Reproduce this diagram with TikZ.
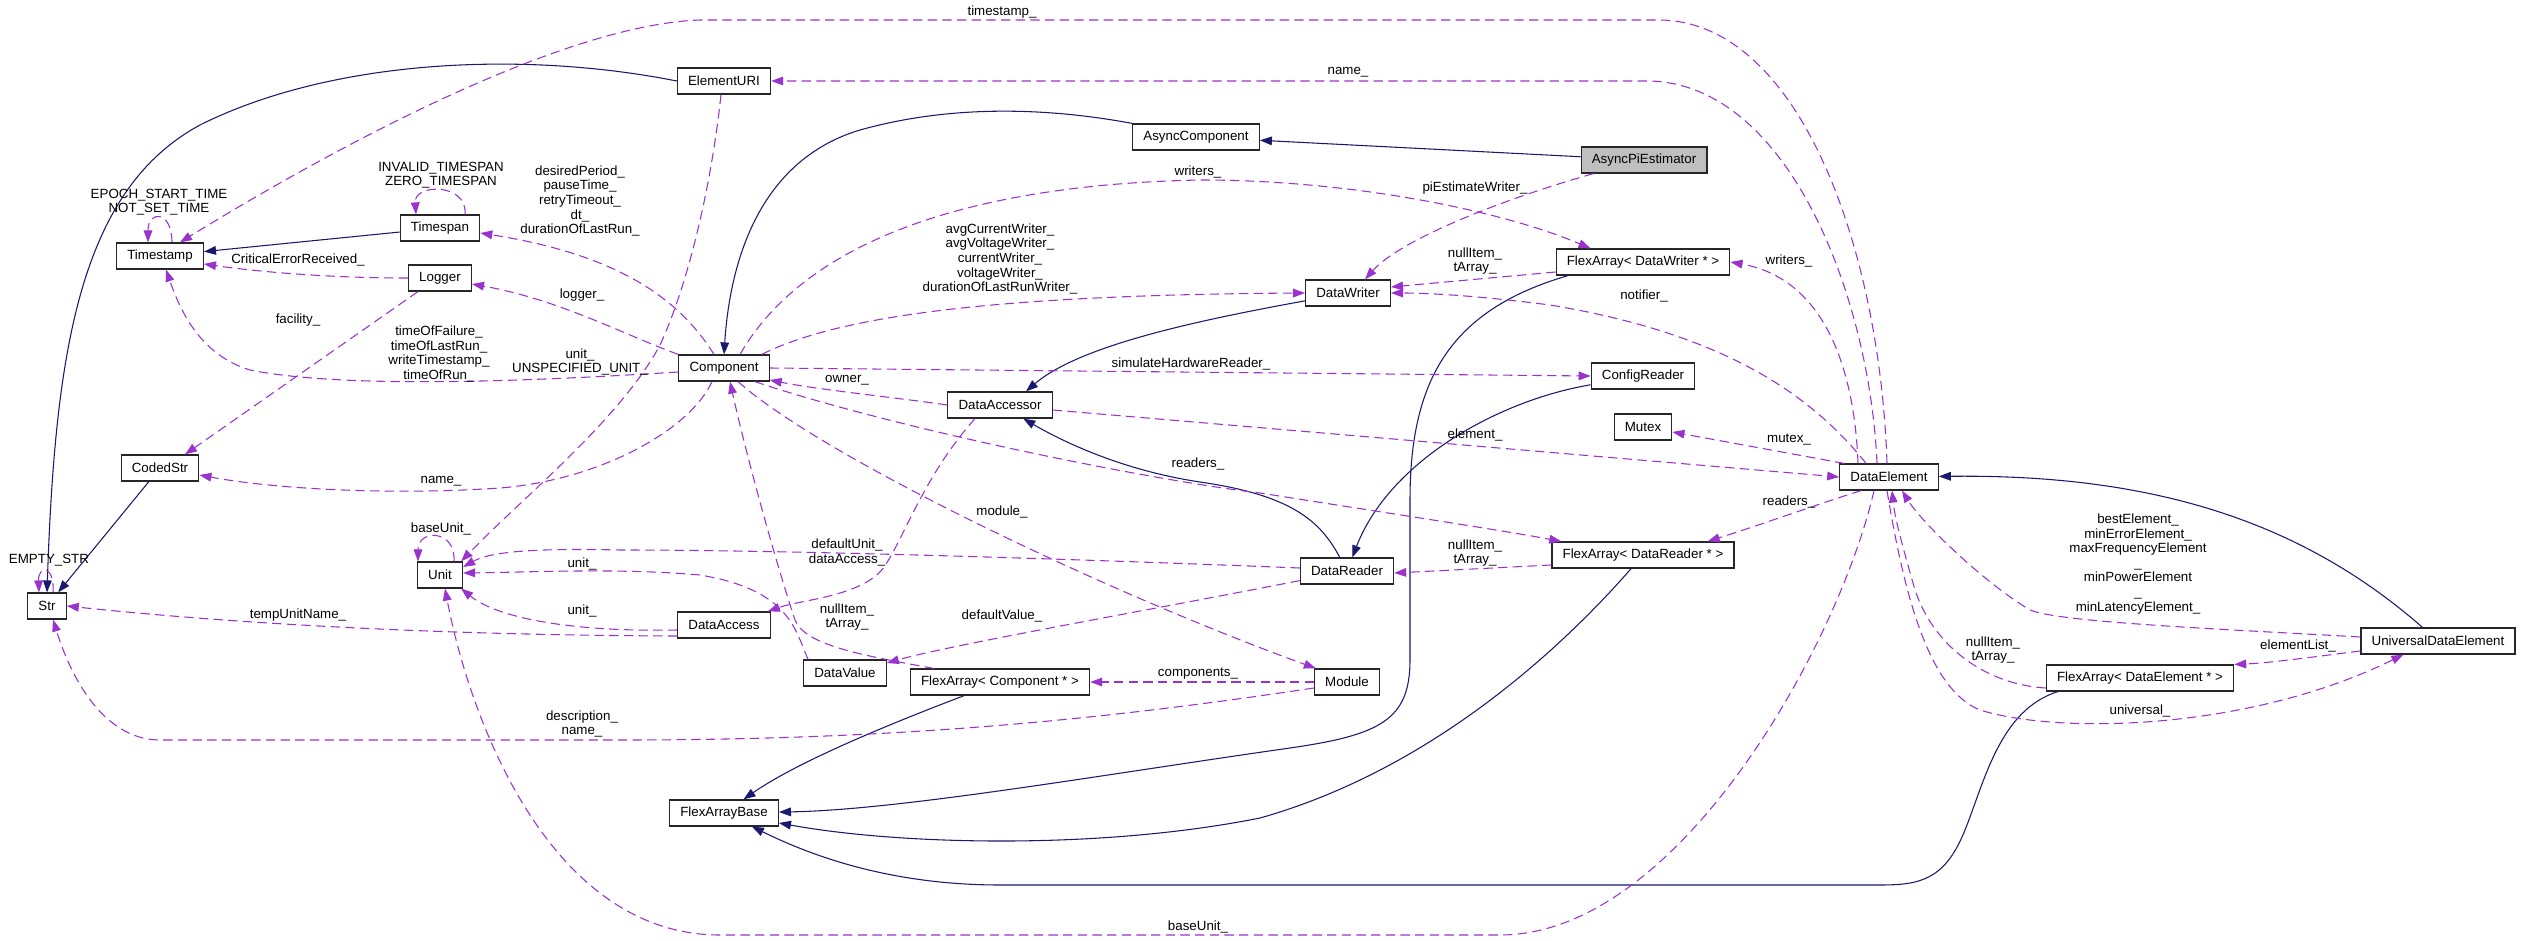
\documentclass[tikz,border=0pt]{standalone}
\usepackage{fontspec}
\setmainfont{Liberation Sans}
\usetikzlibrary{arrows.meta,calc}
\definecolor{inhblue}{HTML}{191970}
\definecolor{usepurple}{HTML}{9A32CD}

\begin{document}
\begin{tikzpicture}[x=0.75pt,y=-0.75pt,
      cls/.style={draw=black!85,line width=0.9pt,fill=white,inner xsep=8pt,inner ysep=0pt,
        minimum height=19.5pt,font=\fontsize{10}{12}\selectfont},
      root/.style={cls,fill=black!25},
      lbl/.style={align=center,inner sep=0pt,font=\fontsize{10}{10.9}\selectfont},
      inh/.style={draw=inhblue,line width=0.8pt,-{Triangle[length=9pt,width=6.5pt]}},
      uses/.style={draw=usepurple,line width=0.8pt,dash pattern=on 7pt off 4pt,
        -{Triangle[length=9pt,width=6.5pt]}}]
    \useasboundingbox (0,0) rectangle (2521,941);
    % classes, placed where the graph layout put them
    \node[root] (asyncpi) at (1644,160) {AsyncPiEstimator};
    \foreach \nm/\x/\y/\txt in {elementuri/724/81/ElementURI, asynccomp/1196/137/AsyncComponent,
        timestamp/160/256/Timestamp, timespan/440/228/Timespan, logger/440/278/Logger,
        flexdw/1643/262/{FlexArray< DataWriter * >}, datawriter/1348/293/DataWriter,
        component/724/368/Component, configreader/1643/376/ConfigReader,
        dataaccessor/1000/405/DataAccessor, mutex/1643/427/Mutex, codedstr/160/468/CodedStr,
        dataelement/1889/477/DataElement, str/47/606/Str, unit/440/575/Unit,
        datareader/1347/571/DataReader, flexdr/1643/555/{FlexArray< DataReader * >},
        dataaccess/724/625/DataAccess, datavalue/845/673/DataValue,
        flexcomp/1000/682/{FlexArray< Component * >}, module/1347/682/Module,
        ude/2438/641/UniversalDataElement, flexde/2140/678/{FlexArray< DataElement * >},
        flexbase/724/813/FlexArrayBase}
      \node[cls] (\nm) at (\x,\y) {\txt};

    % inheritance
    \draw[inh] (asyncpi) -- (asynccomp);
    \draw[inh] (asynccomp.north west) .. controls (1060,110) and (960,102) .. (860,130)
      .. controls (760,160) and (730,260) .. (component.north);
    \draw[inh] (elementuri.west) .. controls (520,50) and (330,60) .. (200,125)
      .. controls (80,190) and (55,350) .. (str.north);
    \draw[inh] (timespan) -- (timestamp);
    \draw[inh] (codedstr) -- (str);
    \draw[inh] (datawriter) .. controls (1200,320) and (1080,345) .. ($(dataaccessor.north)+(26,0)$);
    \draw[inh] (datareader) .. controls (1320,520) and (1290,495) .. (1200,482)
      .. controls (1120,470) and (1060,440) .. (dataaccessor);
    \draw[inh] (configreader) .. controls (1500,400) and (1390,460) .. (datareader);
    \draw[inh] ($(flexdw.south)+(-75,0)$) .. controls (1450,310) and (1410,380) .. (1410,500)
      -- (1410,660) .. controls (1410,720) and (1380,735) .. (1290,748)
      .. controls (1100,775) and (900,810) .. (flexbase);
    \draw[inh] (flexdr) .. controls (1560,650) and (1430,770) .. (1260,818)
      .. controls (1100,850) and (900,845) .. (flexbase);
    \draw[inh] ($(flexde.south west)+(12,0)$) .. controls (2000,710) and (1985,780) .. (1965,830)
      .. controls (1945,880) and (1920,885) .. (1880,885) -- (1000,885)
      .. controls (880,885) and (800,850) .. (flexbase);
    \draw[inh] (flexcomp) .. controls (900,720) and (800,760) .. (flexbase);
    \draw[inh] (ude) .. controls (2300,520) and (2150,474) .. (dataelement);

    % members, pointing at the type that holds them
    \draw[uses] ($(dataelement.north)+(-2,0)$) .. controls (1880,250) and (1800,22) .. (1660,20)
      -- (700,20) .. controls (560,25) and (330,150) .. ($(timestamp.north)+(20,0)$);
    \draw[uses] ($(dataelement.north)+(-12,0)$) .. controls (1870,300) and (1790,85) .. (1650,81)
      -- (elementuri.east);
    \draw[uses] ($(timestamp.north)+(12,0)$) .. controls (172,210) and (148,210) .. ($(timestamp.north)+(-12,0)$);
    \draw[uses] ($(timespan.north)+(25,0)$) .. controls (468,183) and (414,183) .. ($(timespan.north)+(-24,0)$);
    \draw[uses] ($(unit.north)+(14,0)$) .. controls (456,529) and (418,529) .. ($(unit.north)+(-22,0)$);
    \draw[uses] ($(str.north)+(6,0)$) .. controls (55,565) and (38,565) .. ($(str.north)+(-8,0)$);
    \draw[uses] ($(component.north)+(-10,0)$) .. controls (680,300) and (620,255) .. ($(timespan.east)+(0,5)$);
    \draw[uses] (component.north west) .. controls (620,333) and (560,300) .. ($(logger.east)+(0,6)$);
    \draw[uses] (logger.west) .. controls (330,278) and (260,272) .. ($(timestamp.east)+(0,8)$);
    \draw[uses] ($(logger.south west)+(10,0)$) -- ($(codedstr.north)+(25,0)$);
    \draw[uses] ($(component.west)+(0,4)$) .. controls (550,380) and (350,390) .. (250,370)
      .. controls (200,355) and (180,310) .. ($(timestamp.south)+(6,0)$);
    \draw[uses] ($(elementuri.south)+(-3,0)$) .. controls (712,180) and (690,280) .. (660,345)
      .. controls (620,420) and (520,500) .. ($(unit.north east)+(-2,0)$);
    \draw[uses] ($(component.south)+(-12,0)$) .. controls (690,430) and (600,480) .. (500,488)
      .. controls (400,495) and (280,490) .. ($(codedstr.east)+(0,7)$);
    \draw[uses] (component.east) -- (configreader.west);
    \draw[uses] (dataaccessor.west) .. controls (900,398) and (820,390) .. ($(component.east)+(0,12)$);
    \draw[uses] ($(component.south east)+(-15,0)$) .. controls (900,430) and (1150,480) .. (1260,493)
      .. controls (1400,515) and (1500,530) .. ($(flexdr.north west)+(10,0)$);
    \draw[uses] ($(component.south)+(14,0)$) .. controls (820,455) and (1100,590) .. ($(module.north west)+(2,0)$);
    \draw[uses] ($(dataaccessor.east)+(0,5)$) -- (dataelement.west);
    \draw[uses] ($(component.north)+(16,0)$) .. controls (800,250) and (950,185) .. (1200,180)
      .. controls (1350,180) and (1500,210) .. ($(flexdw.north west)+(35,0)$);
    \draw[uses] ($(component.north east)+(-8,0)$) .. controls (840,315) and (1000,295) .. (datawriter.west);
    \draw[uses] ($(asyncpi.south west)+(13,0)$) .. controls (1500,200) and (1400,240) .. ($(datawriter.north)+(17,0)$);
    \draw[uses] ($(flexdw.west)+(0,10)$) -- ($(datawriter.east)+(0,-6)$);
    \draw[uses] ($(dataelement.north)+(-23,0)$) .. controls (1800,380) and (1700,330) .. (1550,305)
      .. controls (1480,296) and (1430,293) .. (datawriter.east);
    \draw[uses] ($(dataelement.north)+(-31,0)$) .. controls (1855,380) and (1830,280) .. (flexdw.east);
    \draw[uses] ($(dataelement.north west)+(5,0)$) -- ($(mutex.east)+(0,5)$);
    \draw[uses] ($(dataelement.south west)+(22,0)$) .. controls (1830,500) and (1760,525) .. ($(flexdr.north east)+(-27,0)$);
    \draw[uses] ($(flexdr.west)+(0,10)$) -- ($(datareader.east)+(0,2)$);
    \draw[uses] ($(datareader.west)+(0,-3)$) .. controls (1100,560) and (800,550) .. (620,550)
      .. controls (530,548) and (490,552) .. ($(unit.east)+(0,-8)$);
    \draw[uses] ($(dataaccessor.south)+(-25,0)$) .. controls (920,480) and (900,550) .. (880,572)
      .. controls (855,597) and (800,600) .. ($(dataaccess.north east)+(-3,0)$);
    \draw[uses] ($(datavalue.north west)+(5,0)$) .. controls (795,630) and (790,590) .. (700,575)
      .. controls (620,568) and (540,572) .. ($(unit.east)+(0,-2)$);
    \draw[uses] ($(dataaccess.west)+(0,5)$) .. controls (580,632) and (500,620) .. ($(unit.south east)+(-2,0)$);
    \draw[uses] ($(dataaccess.west)+(0,11)$) .. controls (400,635) and (200,620) .. (str.east);
    \draw[uses] ($(dataelement.south)+(-15,0)$) .. controls (1840,640) and (1680,935) .. (1500,935)
      -- (720,935) .. controls (550,935) and (470,720) .. ($(unit.south)+(5,0)$);
    \draw[uses] ($(module.west)+(0,6)$) .. controls (1100,720) and (900,740) .. (620,740)
      -- (160,740) .. controls (110,740) and (75,690) .. ($(str.south)+(6,0)$);
    \draw[uses] (module.west) -- (flexcomp.east);
    \draw[uses] ($(datareader.south west)+(0,-4)$) .. controls (1150,610) and (950,645) .. ($(datavalue.east)+(0,-10)$);
    \draw[uses] ($(flexcomp.north west)+(24,0)$) .. controls (860,655) and (805,645) .. (795,620)
      .. controls (775,560) and (745,450) .. ($(component.south)+(6,0)$);
    \draw[uses] ($(ude.west)+(0,10)$) .. controls (2320,656) and (2270,663) .. (flexde.north east);
    \draw[uses] ($(ude.west)+(0,-4)$) .. controls (2200,628) and (2060,622) .. (2030,610)
      .. controls (1980,580) and (1920,520) .. ($(dataelement.south)+(13,0)$);
    \draw[uses] ($(dataelement.south)+(-2,0)$) .. controls (1905,600) and (1930,690) .. (1980,710)
      .. controls (2060,735) and (2250,730) .. ($(ude.south west)+(43,0)$);
    \draw[uses] ($(flexde.west)+(0,10)$) .. controls (1990,685) and (1935,650) .. (1915,590)
      .. controls (1905,555) and (1895,520) .. ($(dataelement.south)+(3,0)$);

    % member names
    \foreach \x/\y/\txt [count=\i] in {1002/12/timestamp\_, 1348/72/name\_,
        159/202/{EPOCH\_START\_TIME\\NOT\_SET\_TIME}, 441/175/{INVALID\_TIMESPAN\\ZERO\_TIMESPAN},
        580/201/{desiredPeriod\_\\pauseTime\_\\retryTimeout\_\\dt\_\\durationOfLastRun\_},
        298/260/CriticalErrorReceived\_, 582/295/logger\_, 298/320/facility\_,
        439/354/{timeOfFailure\_\\timeOfLastRun\_\\writeTimestamp\_\\timeOfRun\_},
        580/362/{unit\_\\UNSPECIFIED\_UNIT\_}, 441/481/name\_, 441/529/baseUnit\_,
        49/560/EMPTY\_STR, 582/564/unit\_, 582/611/unit\_, 298/615/tempUnitName\_,
        582/724/{description\_\\name\_}, 1198/172/writers\_,
        1000/259/{avgCurrentWriter\_\\avgVoltageWriter\_\\currentWriter\_\\voltageWriter\_\\durationOfLastRunWriter\_},
        1191/364/simulateHardwareReader\_, 847/380/owner\_, 1198/464/readers\_, 1002/512/module\_,
        847/545/defaultUnit\_, 847/560/dataAccess\_, 847/617/{nullItem\_\\tArray\_},
        1002/616/defaultValue\_, 1198/674/components\_, 1198/927/baseUnit\_,
        1475/188/piEstimateWriter\_, 1475/261/{nullItem\_\\tArray\_}, 1644/296/notifier\_,
        1789/261/writers\_, 1475/435/element\_, 1789/440/mutex\_, 1789/502/readers\_,
        1475/553/{nullItem\_\\tArray\_},
        2138/564/{bestElement\_\\minErrorElement\_\\maxFrequencyElement\\\_\\minPowerElement\\\_\\minLatencyElement\_},
        1993/650/{nullItem\_\\tArray\_}, 2298/646/elementList\_, 2140/711/universal\_}
      \node[lbl] (lbl\i) at (\x,\y) {\txt};
  \end{tikzpicture}
\end{document}
